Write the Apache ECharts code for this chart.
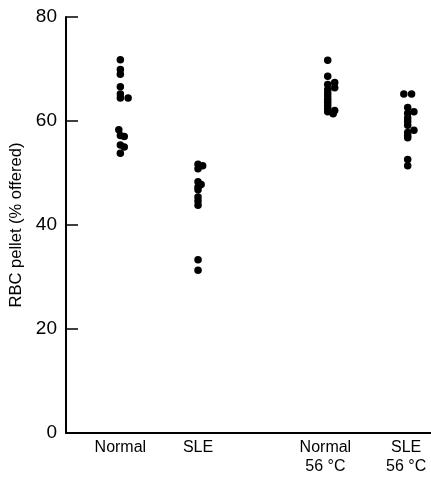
<!DOCTYPE html>
<html>
<head>
<meta charset="utf-8">
<script src="https://cdn.jsdelivr.net/npm/echarts@6/dist/echarts.min.js"></script>
<style>
	html, body { margin: 0; padding: 0; background: #fff; }
	#chart { width: 431px; height: 477px; }
</style>
</head>
<body>
<div id="chart"></div>
<script>
// group labels and where they sit on the x scale
var groupLabels = ['Normal', 'SLE', 'Normal\n56 °C', 'SLE\n56 °C'];
var groupPos = [1, 2, 3.64, 4.68];

// points: [x, RBC pellet %]
var normalPts = [[1, 71.8], [1, 69.9], [1, 69.0], [1, 66.6], [1, 65.2], [1, 64.4], [1.1, 64.4],
	[0.98, 58.3], [1, 57.2], [1.05, 57.0], [1, 55.4], [1.05, 55.0], [1, 53.8]];
var slePts = [[2, 51.7], [2.06, 51.4], [2, 50.8], [2, 48.3], [2.04, 47.8], [2, 47.3], [2, 46.8],
	[2, 45.4], [2, 44.6], [2, 43.8], [2, 33.3], [2, 31.3]];
var normal56Pts = [[3.67, 71.7], [3.67, 68.6], [3.76, 67.4], [3.67, 67.0], [3.76, 66.4], [3.67, 66.0],
	[3.67, 65.4], [3.67, 64.8], [3.67, 64.2], [3.67, 63.6], [3.67, 63.0], [3.67, 62.4], [3.76, 62.0],
	[3.67, 61.8], [3.74, 61.4]];
var sle56Pts = [[4.65, 65.2], [4.75, 65.2], [4.7, 62.6], [4.78, 61.8], [4.7, 61.5], [4.7, 60.6],
	[4.7, 59.9], [4.7, 59.2], [4.78, 58.2], [4.7, 57.8], [4.7, 57.2], [4.7, 56.8], [4.7, 52.6], [4.7, 51.4]];

var font = 'Liberation Sans, Arial, sans-serif';

function dotSeries(pts) {
	return {
		type: 'scatter',
		data: pts,
		symbol: 'circle',
		symbolSize: 7.5,
		itemStyle: { color: '#000', opacity: 1 },
		silent: true
	};
}

var myChart = echarts.init(document.getElementById('chart'));
myChart.setOption({
	animation: false,
	backgroundColor: '#fff',
	grid: { left: 66, right: 0, top: 17, bottom: 44, outerBoundsMode: 'none', containLabel: false },
	xAxis: {
		type: 'value',
		min: 0.3,
		max: 5.0,
		splitLine: { show: false },
		axisLine: { show: true, lineStyle: { color: '#000', width: 2 } },
		axisTick: { show: false },
		axisLabel: {
			customValues: groupPos,
			formatter: function(v) {
				var i = groupPos.indexOf(v);
				return i >= 0 ? groupLabels[i] : '';
			},
			color: '#000',
			fontFamily: font,
			fontSize: 16,
			lineHeight: 19,
			margin: 5,
			verticalAlign: 'top'
		}
	},
	yAxis: {
		type: 'value',
		min: 0,
		max: 80,
		interval: 20,
		name: 'RBC pellet (% offered)',
		nameLocation: 'middle',
		nameGap: 40,
		nameTextStyle: { color: '#000', fontFamily: font, fontSize: 16.5 },
		splitLine: { show: false },
		axisLine: { show: true, lineStyle: { color: '#000', width: 2 } },
		axisTick: { show: true, inside: true, length: 12, lineStyle: { color: '#000', width: 1.5 } },
		axisLabel: { color: '#000', fontFamily: font, fontSize: 19, margin: 9 }
	},
	series: [dotSeries(normalPts), dotSeries(slePts), dotSeries(normal56Pts), dotSeries(sle56Pts)]
});
</script>
</body>
</html>
